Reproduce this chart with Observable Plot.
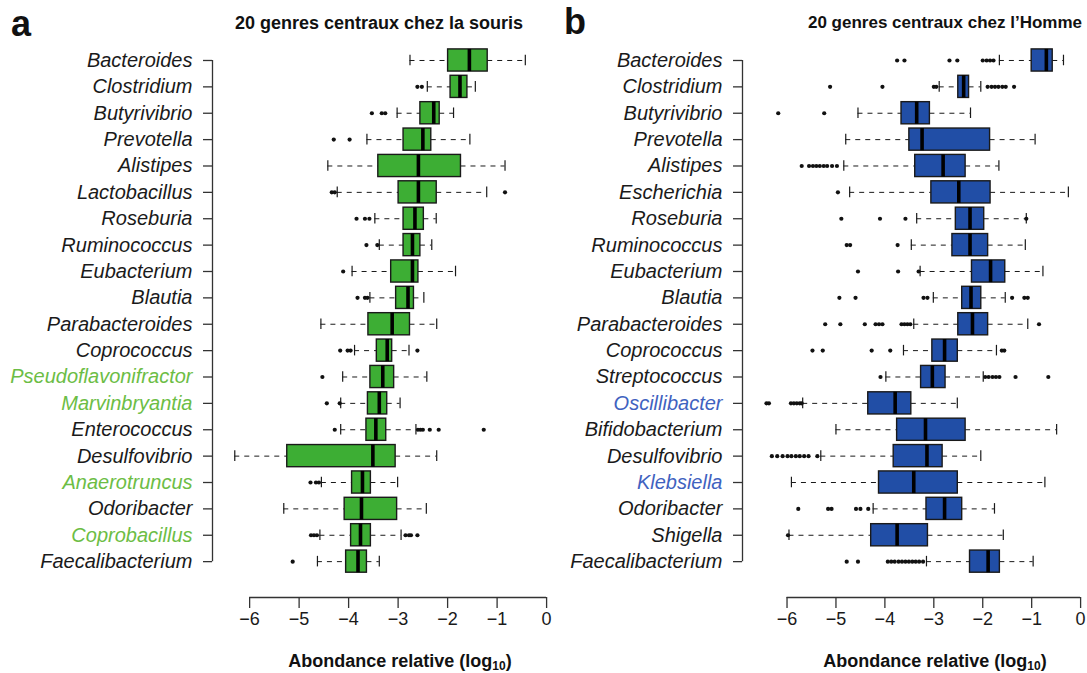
<!DOCTYPE html>
<html>
<head>
<meta charset="utf-8">
<script src="https://cdn.jsdelivr.net/npm/d3@7"></script>
<script src="https://cdn.jsdelivr.net/npm/@observablehq/plot@0.6"></script>
<style>
  body { margin: 0; background: #fff; font-family: "Liberation Sans", Arial, sans-serif; color: #1a1a1a; }
  #wrap { position: relative; width: 1087px; height: 673px; overflow: hidden; background: #fff; }
  .panel { position: absolute; top: 0; }
  .panel svg { overflow: visible; }
  .letter { position: absolute; font-weight: bold; font-size: 36px; line-height: 36px; color: #111; }
  .title, .xlab { position: absolute; font-weight: bold; font-size: 18px; line-height: 18px; white-space: nowrap; transform: translateX(-50%); color: #111; }
  .xlab sub { font-size: 12px; line-height: 0; vertical-align: -3px; }
</style>
</head>
<body>
<div id="wrap">
  <div class="letter" style="left:11px; top:6px;">a</div>
  <div class="letter" style="left:564px; top:4px;">b</div>
  <div class="title" style="left:379px; top:14px;">20 genres centraux chez la souris</div>
  <div class="title" style="left:945px; top:14px; font-size:17px;">20 genres centraux chez l’Homme</div>
  <div class="xlab" style="left:400px; top:652px;">Abondance relative (log<sub>10</sub>)</div>
  <div class="xlab" style="left:935px; top:652px;">Abondance relative (log<sub>10</sub>)</div>
  <div class="panel" id="pa" style="left:0px;"></div>
  <div class="panel" id="pb" style="left:540px;"></div>
</div>
<script>
// ---------- shared ----------
const xTicks = [-6, -5, -4, -3, -2, -1, 0];

// ---------- panel a : souris ----------
const mouseGenus = ["Bacteroides","Clostridium","Butyrivibrio","Prevotella","Alistipes","Lactobacillus","Roseburia","Ruminococcus","Eubacterium","Blautia","Parabacteroides","Coprococcus","Pseudoflavonifractor","Marvinbryantia","Enterococcus","Desulfovibrio","Anaerotruncus","Odoribacter","Coprobacillus","Faecalibacterium"];
const mouseHighlight = ["Pseudoflavonifractor","Marvinbryantia","Anaerotruncus","Coprobacillus"];
const mouseLow  = [-2.76,-2.41,-3.02,-3.63,-4.42,-4.23,-3.47,-3.38,-3.93,-3.57,-4.56,-3.88,-4.12,-4.16,-4.16,-6.30,-4.55,-5.31,-4.58,-4.63];
const mouseQ1   = [-1.99,-1.94,-2.55,-2.89,-3.40,-2.99,-2.89,-2.89,-3.14,-3.04,-3.60,-3.43,-3.56,-3.61,-3.64,-5.24,-3.93,-4.08,-3.95,-4.05];
const mouseMed  = [-1.56,-1.75,-2.28,-2.50,-2.59,-2.59,-2.66,-2.71,-2.71,-2.80,-3.12,-3.22,-3.31,-3.38,-3.45,-3.51,-3.72,-3.74,-3.76,-3.81];
const mouseQ3   = [-1.19,-1.60,-2.16,-2.33,-1.73,-2.22,-2.48,-2.55,-2.59,-2.68,-2.76,-3.12,-3.08,-3.22,-3.24,-3.05,-3.55,-3.02,-3.55,-3.63];
const mouseHigh = [-0.43,-1.44,-1.88,-1.55,-0.84,-1.21,-2.23,-2.32,-1.84,-2.48,-2.22,-2.78,-2.42,-2.96,-2.64,-2.22,-3.01,-2.43,-2.94,-3.38];
const mouseOutliers = [
  ["Clostridium",-2.61],["Clostridium",-2.52],
  ["Butyrivibrio",-3.53],["Butyrivibrio",-3.33],["Butyrivibrio",-3.26],
  ["Prevotella",-4.30],["Prevotella",-3.98],
  ["Lactobacillus",-4.34],["Lactobacillus",-4.28],["Lactobacillus",-0.84],
  ["Roseburia",-3.84],["Roseburia",-3.67],["Roseburia",-3.58],
  ["Ruminococcus",-3.64],["Ruminococcus",-3.42],
  ["Eubacterium",-4.11],
  ["Blautia",-3.82],["Blautia",-3.67],["Blautia",-3.62],
  ["Coprococcus",-4.17],["Coprococcus",-4.02],["Coprococcus",-3.96],["Coprococcus",-2.61],
  ["Pseudoflavonifractor",-4.53],
  ["Marvinbryantia",-4.44],["Marvinbryantia",-4.18],
  ["Enterococcus",-4.28],["Enterococcus",-2.60],["Enterococcus",-2.55],["Enterococcus",-2.50],["Enterococcus",-2.36],["Enterococcus",-2.18],["Enterococcus",-1.27],
  ["Anaerotruncus",-4.77],["Anaerotruncus",-4.66],["Anaerotruncus",-4.60],
  ["Coprobacillus",-4.76],["Coprobacillus",-4.70],["Coprobacillus",-4.64],["Coprobacillus",-2.85],["Coprobacillus",-2.78],["Coprobacillus",-2.74],["Coprobacillus",-2.61],
  ["Faecalibacterium",-5.13]
];

// ---------- panel b : Homme ----------
const humanGenus = ["Bacteroides","Clostridium","Butyrivibrio","Prevotella","Alistipes","Escherichia","Roseburia","Ruminococcus","Eubacterium","Blautia","Parabacteroides","Coprococcus","Streptococcus","Oscillibacter","Bifidobacterium","Desulfovibrio","Klebsiella","Odoribacter","Shigella","Faecalibacterium"];
const humanHighlight = ["Oscillibacter","Klebsiella"];
const humanLow  = [-1.66,-2.89,-4.55,-4.80,-4.84,-4.72,-3.35,-3.46,-3.28,-3.01,-3.41,-3.62,-3.98,-5.68,-5.00,-5.31,-5.91,-4.24,-5.96,-3.15];
const humanQ1   = [-1.00,-2.50,-3.66,-3.50,-3.38,-3.05,-2.55,-2.62,-2.22,-2.42,-2.50,-3.03,-3.26,-4.34,-3.75,-3.82,-4.12,-3.15,-4.28,-2.26];
const humanMed  = [-0.70,-2.39,-3.35,-3.24,-2.81,-2.49,-2.26,-2.26,-1.84,-2.24,-2.21,-2.78,-3.03,-3.79,-3.17,-3.14,-3.41,-2.78,-3.75,-1.89];
const humanQ3   = [-0.57,-2.28,-3.08,-1.85,-2.35,-1.84,-1.97,-1.89,-1.54,-2.03,-1.89,-2.51,-2.76,-3.46,-2.35,-2.82,-2.51,-2.42,-3.12,-1.65];
const humanHigh = [-0.35,-2.04,-2.25,-0.93,-1.67,-0.25,-1.11,-1.13,-0.77,-1.54,-1.08,-1.72,-1.99,-2.52,-0.49,-2.04,-0.73,-1.76,-1.58,-0.97];
const humanOutliers = [
  ["Bacteroides",-3.75],["Bacteroides",-3.60],["Bacteroides",-2.68],["Bacteroides",-2.52],["Bacteroides",-2.00],["Bacteroides",-1.92],["Bacteroides",-1.85],["Bacteroides",-1.78],
  ["Clostridium",-5.12],["Clostridium",-4.05],["Clostridium",-3.00],["Clostridium",-2.95],["Clostridium",-1.90],["Clostridium",-1.82],["Clostridium",-1.75],["Clostridium",-1.68],["Clostridium",-1.60],["Clostridium",-1.53],["Clostridium",-1.36],
  ["Butyrivibrio",-6.18],["Butyrivibrio",-5.24],
  ["Alistipes",-5.70],["Alistipes",-5.55],["Alistipes",-5.47],["Alistipes",-5.40],["Alistipes",-5.33],["Alistipes",-5.25],["Alistipes",-5.18],["Alistipes",-5.08],["Alistipes",-4.98],
  ["Escherichia",-4.96],
  ["Roseburia",-4.89],["Roseburia",-4.10],["Roseburia",-3.58],["Roseburia",-1.11],
  ["Ruminococcus",-4.78],["Ruminococcus",-4.71],["Ruminococcus",-3.74],
  ["Eubacterium",-4.55],["Eubacterium",-3.73],["Eubacterium",-3.31],
  ["Blautia",-4.93],["Blautia",-4.60],["Blautia",-3.21],["Blautia",-3.13],["Blautia",-1.40],["Blautia",-1.15],["Blautia",-1.08],
  ["Parabacteroides",-5.22],["Parabacteroides",-4.91],["Parabacteroides",-4.41],["Parabacteroides",-4.19],["Parabacteroides",-4.12],["Parabacteroides",-4.05],["Parabacteroides",-3.66],["Parabacteroides",-3.60],["Parabacteroides",-3.54],["Parabacteroides",-3.48],["Parabacteroides",-0.85],
  ["Coprococcus",-5.48],["Coprococcus",-5.27],["Coprococcus",-4.27],["Coprococcus",-3.89],["Coprococcus",-1.61],["Coprococcus",-1.56],
  ["Streptococcus",-4.09],["Streptococcus",-1.95],["Streptococcus",-1.88],["Streptococcus",-1.80],["Streptococcus",-1.73],["Streptococcus",-1.66],["Streptococcus",-1.33],["Streptococcus",-0.66],
  ["Oscillibacter",-6.42],["Oscillibacter",-6.37],["Oscillibacter",-5.92],["Oscillibacter",-5.86],["Oscillibacter",-5.80],["Oscillibacter",-5.74],["Oscillibacter",-5.70],
  ["Desulfovibrio",-6.31],["Desulfovibrio",-6.20],["Desulfovibrio",-6.09],["Desulfovibrio",-5.99],["Desulfovibrio",-5.91],["Desulfovibrio",-5.82],["Desulfovibrio",-5.74],["Desulfovibrio",-5.65],["Desulfovibrio",-5.56],["Desulfovibrio",-5.38],
  ["Odoribacter",-5.77],["Odoribacter",-5.16],["Odoribacter",-5.09],["Odoribacter",-4.59],["Odoribacter",-4.50],["Odoribacter",-4.34],
  ["Shigella",-5.98],
  ["Faecalibacterium",-4.78],["Faecalibacterium",-4.55],["Faecalibacterium",-3.94],["Faecalibacterium",-3.87],["Faecalibacterium",-3.80],["Faecalibacterium",-3.72],["Faecalibacterium",-3.65],["Faecalibacterium",-3.58],["Faecalibacterium",-3.51],["Faecalibacterium",-3.44],["Faecalibacterium",-3.37],["Faecalibacterium",-3.30],["Faecalibacterium",-3.22]
];

const fmt = d => d < 0 ? "\u2212" + Math.abs(d) : String(d);
const INK = "#1a1a1a";

function boxPanel(cfg) {
  const {genus, highlight, low, q1, med, q3, high, outliers, boxFill, labelColor, xDomain, width, marginLeft, marginRight} = cfg;
  const rows = genus.map((g, i) => ({i, g, lo: low[i], q1: q1[i], med: med[i], q3: q3[i], hi: high[i]}));
  const idx = rows.map(r => r.i);
  const pts = outliers.map(([g, v]) => ({i: genus.indexOf(g), v}));
  const half = 0.42, cap = 0.2;
  const yBottom = 20.36;
  return Plot.plot({
    width, height: 640,
    marginLeft, marginRight, marginTop: 46.8, marginBottom: 43,
    x: {domain: xDomain},
    y: {domain: [-0.5, yBottom], reverse: true},
    style: {fontFamily: "'Liberation Sans', Arial, sans-serif", background: "transparent", color: INK},
    marks: [
      // whiskers
      Plot.ruleY(rows, {y: "i", x1: "lo", x2: "q1", stroke: INK, strokeWidth: 1, strokeDasharray: "5,5"}),
      Plot.ruleY(rows, {y: "i", x1: "q3", x2: "hi", stroke: INK, strokeWidth: 1, strokeDasharray: "5,5"}),
      Plot.ruleX(rows, {x: "lo", y1: d => d.i - cap, y2: d => d.i + cap, stroke: INK, strokeWidth: 1.2}),
      Plot.ruleX(rows, {x: "hi", y1: d => d.i - cap, y2: d => d.i + cap, stroke: INK, strokeWidth: 1.2}),
      // outliers
      Plot.dot(pts, {x: "v", y: "i", r: 2.1, fill: "#111", stroke: null}),
      // boxes
      Plot.rectX(rows, {x1: "q1", x2: "q3", y1: d => d.i - half, y2: d => d.i + half, fill: boxFill, stroke: INK, strokeWidth: 1.4}),
      Plot.ruleX(rows, {x: "med", y1: d => d.i - half, y2: d => d.i + half, stroke: "#000", strokeWidth: 3.6}),
      // y axis (bracket)
      Plot.ruleX([xDomain[0]], {y1: idx[0], y2: idx[idx.length - 1], stroke: "#333", strokeWidth: 1.3}),
      Plot.axisY({ticks: idx, tickSize: 9, tickFormat: () => "", label: null, stroke: "#333", strokeWidth: 1.3}),
      Plot.text(rows.filter(r => !highlight.includes(r.g)), {y: "i", text: "g", frameAnchor: "left", dx: -20, textAnchor: "end", fontStyle: "italic", fontSize: 20, fill: INK}),
      Plot.text(rows.filter(r => highlight.includes(r.g)), {y: "i", text: "g", frameAnchor: "left", dx: -20, textAnchor: "end", fontStyle: "italic", fontSize: 20, fill: labelColor}),
      // x axis
      Plot.ruleY([yBottom], {x1: d3.min(xTicks), x2: d3.max(xTicks), stroke: "#333", strokeWidth: 1.3}),
      Plot.axisX({ticks: xTicks, tickSize: 11, tickPadding: 4, tickFormat: fmt, fontSize: 18, label: null, stroke: "#333", strokeWidth: 1.3})
    ]
  });
}

document.getElementById("pa").appendChild(boxPanel({
  genus: mouseGenus, highlight: mouseHighlight,
  low: mouseLow, q1: mouseQ1, med: mouseMed, q3: mouseQ3, high: mouseHigh, outliers: mouseOutliers,
  boxFill: "#3dae34", labelColor: "#6cbd45",
  xDomain: [-6.75, 0.2], width: 560, marginLeft: 212, marginRight: 4
}));

document.getElementById("pb").appendChild(boxPanel({
  genus: humanGenus, highlight: humanHighlight,
  low: humanLow, q1: humanQ1, med: humanMed, q3: humanQ3, high: humanHigh, outliers: humanOutliers,
  boxFill: "#214ea6", labelColor: "#3f62c0",
  xDomain: [-6.91, 0.1], width: 547, marginLeft: 202, marginRight: 2
}));
</script>
</body>
</html>
